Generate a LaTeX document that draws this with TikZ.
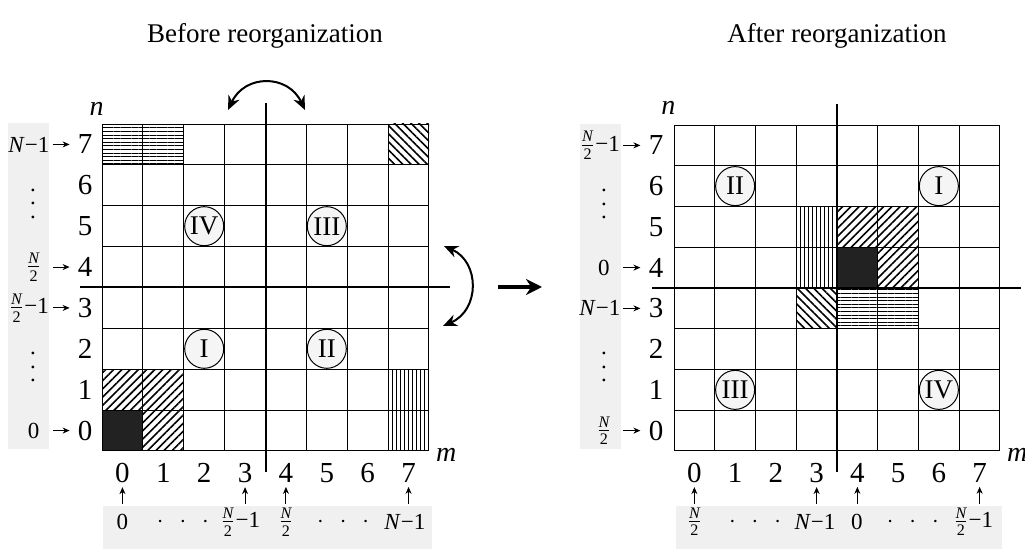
\documentclass[tikz,border=0pt]{standalone}
\usepackage{fontspec}
\setmainfont{Liberation Serif}
\usepackage{amsmath}
\usetikzlibrary{arrows.meta,patterns.meta}
\definecolor{bandgray}{RGB}{240,240,240}
\definecolor{circfill}{RGB}{245,245,245}
\definecolor{darkfill}{RGB}{34,34,34}
\newcommand{\Nh}{$\frac{\textit{N}}{\text{2}}$}
\newcommand{\myvdots}{\vbox{\baselineskip=6.75pt\lineskiplimit=-10pt\hbox{.}\hbox{.}\hbox{.}}}
\newcommand{\mycdots}{$\cdot\;\,\cdot\;\,\cdot$}
\tikzset{
  gridline/.style={line width=0.5pt},
  axisline/.style={line width=1pt},
  digit/.style={font=\fontsize{14.5}{17}\selectfont, inner sep=0pt},
  axlabel/.style={font=\fontsize{14}{17}\selectfont\itshape, inner sep=0pt},
  bandlabel/.style={font=\fontsize{11.5}{13}\selectfont, inner sep=0pt},
  romanlabel/.style={circle, draw, line width=0.5pt, fill=circfill, minimum size=19.5pt, inner sep=0pt, font=\fontsize{13.5}{15}\selectfont},
  smallarrow/.style={line width=0.45pt, -{Stealth[length=3.5pt,width=3pt]}},
  swaparrow/.style={line width=1pt, {Stealth[length=7pt,width=6pt]}-{Stealth[length=7pt,width=6pt]}},
  bigarrow/.style={line width=2pt, -{Stealth[length=8pt,width=8pt]}},
  bandfill/.style={fill=bandgray},
  hatchH/.style={pattern={Lines[angle=0,distance=1.8pt,line width=0.45pt]}},
  hatchV/.style={pattern={Lines[angle=90,distance=2pt,line width=0.45pt]}},
  hatchNE/.style={pattern={Lines[angle=45,distance=2.9pt,line width=0.8pt]}},
  hatchNW/.style={pattern={Lines[angle=-45,distance=2.9pt,line width=0.8pt]}},
  titletext/.style={font=\fontsize{13.5}{16}\selectfont},
}
\begin{document}
\begin{tikzpicture}[x=0.5pt,y=-0.5pt]
\useasboundingbox (0,0) rectangle (1025,549);

\node[titletext] (t1) at (265,36) {Before reorganization};
\node[titletext] (t2) at (837,36) {After reorganization};

% ---------------- left panel ----------------
\begin{scope}[shift={(102,451)},x=20.4375pt,y=20.4375pt]
  \fill[bandfill] (-2.30,0.04) rectangle (-1.30,8.02);
  \fill[bandfill] (0.02,-1.346) rectangle (8.07,-2.6);
  \fill[darkfill] (0,0) rectangle (1,1);
  \path[hatchNE] (1,0) rectangle (2,1) (0,1) rectangle (2,2);
  \path[hatchV] (7,0) rectangle (8,2);
  \path[hatchH] (0,7) rectangle (2,8);
  \path[hatchNW] (7,7) rectangle (8,8);
  \draw[gridline] (0,0) grid[step=1] (8,8);
  \draw[axisline] (4,-0.52) -- (4,8.52);
  \draw[axisline] (-0.54,4) -- (8.52,4);
  \node[axlabel] (Ln) at (-0.13,8.38) {n};
  \node[axlabel] (Lm) at (8.42,-0.1) {m};
  % row digits
  \foreach \j in {0,...,7} {\node[digit] (Ld\j) at (-0.41,\j+0.5) {\j};}
  % column digits
  \foreach \i in {0,...,7} {\node[digit] (Lc\i) at (\i+0.5,-0.538) {\i};}
  % row band labels
  \node[bandlabel] (Lb7) at (-1.79,7.5) {\textit{N}−1};
  \node[bandlabel] (Lv6) at (-1.69,6.05) {\myvdots};
  \node[bandlabel] (Lb4) at (-1.67,4.5) {\Nh};
  \node[bandlabel] (Lb3) at (-1.79,3.5) {\Nh−1};
  \node[bandlabel] (Lv2) at (-1.69,2.05) {\myvdots};
  \node[bandlabel] (Lb0) at (-1.67,0.5) {0};
  \foreach \j in {7,4,3,0} {
    \coordinate (La\j) at (-1.2,\j+0.5);
    \draw[smallarrow] (La\j) -- ([xshift=-4pt]Ld\j.west);
  }
  % column band labels
  \node[bandlabel] (Lk0) at (0.5,-1.737) {0};
  \node[bandlabel] (Lh1) at (1.98,-1.737) {\mycdots};
  \node[bandlabel] (Lk3) at (3.38,-1.737) {\Nh−1};
  \node[bandlabel] (Lk4) at (4.5,-1.737) {\Nh};
  \node[bandlabel] (Lh2) at (5.9,-1.737) {\mycdots};
  \node[bandlabel] (Lk7) at (7.41,-1.737) {\textit{N}−1};
  \foreach \i in {0,3,4,7} {
    \coordinate (Lu\i) at (\i+0.5,-1.29);
    \draw[smallarrow] (Lu\i) -- ([yshift=-2pt]Lc\i.south);
  }
  % quadrant labels
  \node[romanlabel] (LIV) at (2.5,5.5) {IV};
  \node[romanlabel] (LIII) at (5.5,5.5) {III};
  \node[romanlabel] (LI) at (2.5,2.5) {I};
  \node[romanlabel] (LII) at (5.5,2.5) {II};
\end{scope}

% swap arrows
\coordinate (sw1) at (228,110);
\coordinate (sw2) at (305,110);
\draw[swaparrow] (sw1) .. controls (245,74) and (288,74) .. (sw2);
\coordinate (sw3) at (444,246);
\coordinate (sw4) at (443,326);
\draw[swaparrow] (sw3) .. controls (480,262) and (480,310) .. (sw4);

% big arrow
\coordinate (ba1) at (498,287);
\coordinate (ba2) at (542,287);
\draw[bigarrow] (ba1) -- (ba2);

% ---------------- right panel ----------------
\begin{scope}[shift={(674,451)},x=20.375pt,y=20.375pt]
  \fill[bandfill] (-2.307,0.04) rectangle (-1.30,8.02);
  \fill[bandfill] (0.05,-1.346) rectangle (8.05,-2.6);
  \fill[darkfill] (4,4) rectangle (5,5);
  \path[hatchNE] (4,5) rectangle (6,6) (5,4) rectangle (6,5);
  \path[hatchV] (3,4) rectangle (4,6);
  \path[hatchH] (4,3) rectangle (6,4);
  \path[hatchNW] (3,3) rectangle (4,4);
  \draw[gridline] (0,0) grid[step=1] (8,8);
  \draw[axisline] (4,-0.52) -- (4,8.52);
  \draw[axisline] (-0.54,4) -- (8.52,4);
  \node[axlabel] (Rn) at (-0.14,8.42) {n};
  \node[axlabel] (Rm) at (8.42,-0.1) {m};
  \foreach \j in {0,...,7} {\node[digit] (Rd\j) at (-0.44,\j+0.5) {\j};}
  \foreach \i in {0,...,7} {\node[digit] (Rc\i) at (\i+0.5,-0.538) {\i};}
  \node[bandlabel] (Rb7) at (-1.82,7.5) {\Nh−1};
  \node[bandlabel] (Rv6) at (-1.72,6.05) {\myvdots};
  \node[bandlabel] (Rb4) at (-1.72,4.5) {0};
  \node[bandlabel] (Rb3) at (-1.82,3.5) {\textit{N}−1};
  \node[bandlabel] (Rv2) at (-1.72,2.05) {\myvdots};
  \node[bandlabel] (Rb0) at (-1.72,0.5) {\Nh};
  \foreach \j in {7,4,3,0} {
    \coordinate (Ra\j) at (-1.255,\j+0.5);
    \draw[smallarrow] (Ra\j) -- ([xshift=-4pt]Rd\j.west);
  }
  \node[bandlabel] (Rk0) at (0.5,-1.737) {\Nh};
  \node[bandlabel] (Rh1) at (1.99,-1.737) {\mycdots};
  \node[bandlabel] (Rk3) at (3.46,-1.737) {\textit{N}−1};
  \node[bandlabel] (Rk4) at (4.49,-1.737) {0};
  \node[bandlabel] (Rh2) at (5.86,-1.737) {\mycdots};
  \node[bandlabel] (Rk7) at (7.34,-1.737) {\Nh−1};
  \foreach \i in {0,3,4,7} {
    \coordinate (Ru\i) at (\i+0.5,-1.29);
    \draw[smallarrow] (Ru\i) -- ([yshift=-2pt]Rc\i.south);
  }
  \node[romanlabel] (RII) at (1.5,6.5) {II};
  \node[romanlabel] (RI) at (6.5,6.5) {I};
  \node[romanlabel] (RIII) at (1.5,1.5) {III};
  \node[romanlabel] (RIV) at (6.5,1.5) {IV};
\end{scope}
\end{tikzpicture}
\end{document}
